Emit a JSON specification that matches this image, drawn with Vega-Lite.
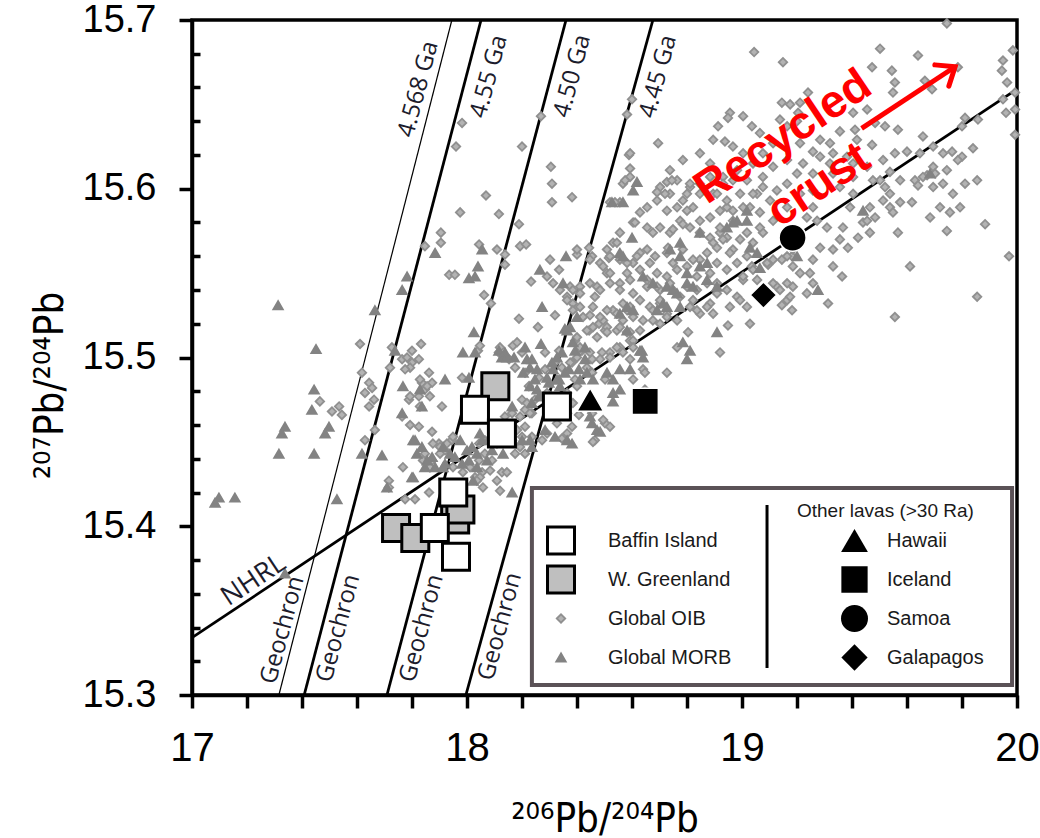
{
"$schema":"https://vega.github.io/schema/vega-lite/v6.json",
"width":825,"height":675,
"autosize":{"type":"none"},
"padding":{"left":192,"top":20,"right":23,"bottom":143},
"background":"white",
"config":{"view":{"stroke":"black","strokeWidth":3.5},"axis":{"labelOverlap":false,"labelFlush":false,"labelBound":false}},
"datasets":{
"lines":[
{"line":"4.568 Ga","x":17.316,"y":15.3},{"line":"4.568 Ga","x":17.945,"y":15.7},
{"line":"4.55 Ga","x":17.408,"y":15.3},{"line":"4.55 Ga","x":18.051,"y":15.7},
{"line":"4.50 Ga","x":17.709,"y":15.3},{"line":"4.50 Ga","x":18.36,"y":15.7},
{"line":"4.45 Ga","x":17.996,"y":15.3},{"line":"4.45 Ga","x":18.676,"y":15.7},
{"line":"NHRL","x":17,"y":15.334},{"line":"NHRL","x":20,"y":15.659}],
"points":[
{"series":"Global OIB","x":17.982,"y":15.639},{"series":"Global OIB","x":17.960,"y":15.625},{"series":"Global OIB","x":18.200,"y":15.625},{"series":"Global OIB","x":18.269,"y":15.643},{"series":"Global OIB","x":18.305,"y":15.613},{"series":"Global OIB","x":18.309,"y":15.603},{"series":"Global OIB","x":18.309,"y":15.592},{"series":"Global OIB","x":18.382,"y":15.595},{"series":"Global OIB","x":18.069,"y":15.596},{"series":"Global OIB","x":17.975,"y":15.586},
{"series":"Global OIB","x":18.116,"y":15.585},{"series":"Global OIB","x":17.905,"y":15.574},{"series":"Global OIB","x":17.905,"y":15.568},{"series":"Global OIB","x":17.847,"y":15.566},{"series":"Global OIB","x":18.044,"y":15.567},{"series":"Global OIB","x":18.109,"y":15.564},{"series":"Global OIB","x":18.189,"y":15.579},{"series":"Global OIB","x":18.193,"y":15.566},{"series":"Global OIB","x":18.215,"y":15.567},{"series":"Global OIB","x":18.138,"y":15.561},
{"series":"Global OIB","x":18.138,"y":15.555},{"series":"Global OIB","x":18.302,"y":15.558},{"series":"Global OIB","x":18.335,"y":15.552},{"series":"Global OIB","x":18.233,"y":15.545},{"series":"Global OIB","x":18.320,"y":15.525},{"series":"Global OIB","x":18.189,"y":15.523},{"series":"Global OIB","x":18.258,"y":15.518},{"series":"Global OIB","x":18.062,"y":15.537},{"series":"Global OIB","x":18.087,"y":15.532},{"series":"Global OIB","x":17.935,"y":15.549},
{"series":"Global OIB","x":17.956,"y":15.549},{"series":"Global OIB","x":17.611,"y":15.508},{"series":"Global OIB","x":17.833,"y":15.508},{"series":"Global OIB","x":18.040,"y":15.504},{"series":"Global OIB","x":18.167,"y":15.507},{"series":"Global OIB","x":18.444,"y":15.565},{"series":"Global OIB","x":18.400,"y":15.561},{"series":"Global OIB","x":18.455,"y":15.560},{"series":"Global OIB","x":18.484,"y":15.556},{"series":"Global OIB","x":18.509,"y":15.550},
{"series":"Global OIB","x":18.516,"y":15.559},{"series":"Global OIB","x":18.375,"y":15.542},{"series":"Global OIB","x":18.411,"y":15.542},{"series":"Global OIB","x":18.465,"y":15.536},{"series":"Global OIB","x":18.473,"y":15.542},{"series":"Global OIB","x":18.447,"y":15.525},{"series":"Global OIB","x":18.480,"y":15.520},{"series":"Global OIB","x":18.444,"y":15.516},{"series":"Global OIB","x":18.502,"y":15.516},{"series":"Global OIB","x":18.520,"y":15.592},
{"series":"Global OIB","x":18.418,"y":15.504},{"series":"Global OIB","x":18.393,"y":15.510},{"series":"Global OIB","x":19.745,"y":15.698},{"series":"Global OIB","x":19.044,"y":15.681},{"series":"Global OIB","x":19.149,"y":15.675},{"series":"Global OIB","x":19.502,"y":15.683},{"series":"Global OIB","x":19.640,"y":15.679},{"series":"Global OIB","x":19.473,"y":15.672},{"series":"Global OIB","x":19.545,"y":15.670},{"series":"Global OIB","x":19.785,"y":15.672},
{"series":"Global OIB","x":19.949,"y":15.676},{"series":"Global OIB","x":19.945,"y":15.670},{"series":"Global OIB","x":19.985,"y":15.682},{"series":"Global OIB","x":19.964,"y":15.663},{"series":"Global OIB","x":19.993,"y":15.657},{"series":"Global OIB","x":19.949,"y":15.653},{"series":"Global OIB","x":19.993,"y":15.647},{"series":"Global OIB","x":19.960,"y":15.645},{"series":"Global OIB","x":19.993,"y":15.632},{"series":"Global OIB","x":19.549,"y":15.657},
{"series":"Global OIB","x":19.556,"y":15.663},{"series":"Global OIB","x":19.665,"y":15.664},{"series":"Global OIB","x":19.691,"y":15.659},{"series":"Global OIB","x":19.240,"y":15.657},{"series":"Global OIB","x":19.211,"y":15.651},{"series":"Global OIB","x":19.145,"y":15.651},{"series":"Global OIB","x":19.175,"y":15.650},{"series":"Global OIB","x":19.204,"y":15.645},{"series":"Global OIB","x":18.956,"y":15.645},{"series":"Global OIB","x":18.949,"y":15.642},
{"series":"Global OIB","x":19.004,"y":15.643},{"series":"Global OIB","x":19.455,"y":15.647},{"series":"Global OIB","x":19.404,"y":15.645},{"series":"Global OIB","x":19.484,"y":15.639},{"series":"Global OIB","x":19.520,"y":15.637},{"series":"Global OIB","x":19.567,"y":15.635},{"series":"Global OIB","x":19.411,"y":15.635},{"series":"Global OIB","x":19.418,"y":15.629},{"series":"Global OIB","x":19.356,"y":15.634},{"series":"Global OIB","x":19.138,"y":15.641},
{"series":"Global OIB","x":19.164,"y":15.637},{"series":"Global OIB","x":19.200,"y":15.640},{"series":"Global OIB","x":19.036,"y":15.637},{"series":"Global OIB","x":19.065,"y":15.633},{"series":"Global OIB","x":18.913,"y":15.637},{"series":"Global OIB","x":18.895,"y":15.629},{"series":"Global OIB","x":18.938,"y":15.628},{"series":"Global OIB","x":18.695,"y":15.627},{"series":"Global OIB","x":18.589,"y":15.620},{"series":"Global OIB","x":19.284,"y":15.629},
{"series":"Global OIB","x":19.320,"y":15.627},{"series":"Global OIB","x":19.211,"y":15.627},{"series":"Global OIB","x":19.258,"y":15.622},{"series":"Global OIB","x":19.331,"y":15.621},{"series":"Global OIB","x":19.382,"y":15.619},{"series":"Global OIB","x":19.473,"y":15.626},{"series":"Global OIB","x":19.513,"y":15.617},{"series":"Global OIB","x":19.556,"y":15.621},{"series":"Global OIB","x":19.600,"y":15.622},{"series":"Global OIB","x":19.647,"y":15.621},
{"series":"Global OIB","x":19.658,"y":15.631},{"series":"Global OIB","x":19.695,"y":15.625},{"series":"Global OIB","x":19.731,"y":15.621},{"series":"Global OIB","x":19.764,"y":15.622},{"series":"Global OIB","x":19.800,"y":15.637},{"series":"Global OIB","x":19.811,"y":15.642},{"series":"Global OIB","x":19.840,"y":15.624},{"series":"Global OIB","x":19.858,"y":15.641},{"series":"Global OIB","x":19.800,"y":15.619},{"series":"Global OIB","x":19.785,"y":15.617},
{"series":"Global OIB","x":19.695,"y":15.613},{"series":"Global OIB","x":19.745,"y":15.611},{"series":"Global OIB","x":19.811,"y":15.603},{"series":"Global OIB","x":19.855,"y":15.605},{"series":"Global OIB","x":19.538,"y":15.610},{"series":"Global OIB","x":19.575,"y":15.605},{"series":"Global OIB","x":19.629,"y":15.605},{"series":"Global OIB","x":19.640,"y":15.602},{"series":"Global OIB","x":19.702,"y":15.609},{"series":"Global OIB","x":19.673,"y":15.608},
{"series":"Global OIB","x":19.502,"y":15.605},{"series":"Global OIB","x":19.520,"y":15.601},{"series":"Global OIB","x":19.538,"y":15.597},{"series":"Global OIB","x":19.618,"y":15.592},{"series":"Global OIB","x":19.684,"y":15.583},{"series":"Global OIB","x":19.720,"y":15.589},{"series":"Global OIB","x":19.756,"y":15.586},{"series":"Global OIB","x":19.793,"y":15.589},{"series":"Global OIB","x":19.745,"y":15.575},{"series":"Global OIB","x":19.884,"y":15.579},
{"series":"Global OIB","x":19.971,"y":15.560},{"series":"Global OIB","x":19.611,"y":15.554},{"series":"Global OIB","x":19.556,"y":15.524},{"series":"Global OIB","x":19.855,"y":15.536},{"series":"Global OIB","x":19.465,"y":15.589},{"series":"Global OIB","x":19.484,"y":15.583},{"series":"Global OIB","x":19.513,"y":15.593},{"series":"Global OIB","x":19.538,"y":15.589},{"series":"Global OIB","x":19.440,"y":15.580},{"series":"Global OIB","x":19.465,"y":15.574},
{"series":"Global OIB","x":19.367,"y":15.577},{"series":"Global OIB","x":19.356,"y":15.570},{"series":"Global OIB","x":19.385,"y":15.565},{"series":"Global OIB","x":19.422,"y":15.571},{"series":"Global OIB","x":19.331,"y":15.564},{"series":"Global OIB","x":19.331,"y":15.554},{"series":"Global OIB","x":19.364,"y":15.548},{"series":"Global OIB","x":19.567,"y":15.574},{"series":"Global OIB","x":19.309,"y":15.577},{"series":"Global OIB","x":19.273,"y":15.581},
{"series":"Global OIB","x":19.236,"y":15.583},{"series":"Global OIB","x":19.258,"y":15.589},{"series":"Global OIB","x":19.211,"y":15.597},{"series":"Global OIB","x":19.258,"y":15.599},{"series":"Global OIB","x":19.331,"y":15.609},{"series":"Global OIB","x":19.356,"y":15.601},{"series":"Global OIB","x":19.404,"y":15.607},{"series":"Global OIB","x":19.320,"y":15.615},{"series":"Global OIB","x":19.284,"y":15.619},{"series":"Global OIB","x":19.455,"y":15.613},
{"series":"Global OIB","x":19.404,"y":15.615},{"series":"Global OIB","x":19.200,"y":15.609},{"series":"Global OIB","x":19.164,"y":15.603},{"series":"Global OIB","x":19.127,"y":15.599},{"series":"Global OIB","x":19.102,"y":15.593},{"series":"Global OIB","x":19.164,"y":15.589},{"series":"Global OIB","x":19.113,"y":15.581},{"series":"Global OIB","x":19.076,"y":15.574},{"series":"Global OIB","x":19.284,"y":15.565},{"series":"Global OIB","x":19.258,"y":15.558},
{"series":"Global OIB","x":19.211,"y":15.550},{"series":"Global OIB","x":19.247,"y":15.550},{"series":"Global OIB","x":19.185,"y":15.554},{"series":"Global OIB","x":19.145,"y":15.558},{"series":"Global OIB","x":19.182,"y":15.560},{"series":"Global OIB","x":19.185,"y":15.542},{"series":"Global OIB","x":19.164,"y":15.534},{"series":"Global OIB","x":19.182,"y":15.528},{"series":"Global OIB","x":19.145,"y":15.531},{"series":"Global OIB","x":19.127,"y":15.542},
{"series":"Global OIB","x":19.236,"y":15.538},{"series":"Global OIB","x":19.258,"y":15.544},{"series":"Global OIB","x":19.313,"y":15.532},{"series":"Global OIB","x":19.113,"y":15.558},{"series":"Global OIB","x":19.095,"y":15.555},{"series":"Global OIB","x":19.018,"y":15.574},{"series":"Global OIB","x":18.993,"y":15.570},{"series":"Global OIB","x":18.945,"y":15.571},{"series":"Global OIB","x":18.967,"y":15.564},{"series":"Global OIB","x":18.920,"y":15.574},
{"series":"Global OIB","x":18.909,"y":15.565},{"series":"Global OIB","x":18.873,"y":15.562},{"series":"Global OIB","x":19.018,"y":15.560},{"series":"Global OIB","x":19.036,"y":15.554},{"series":"Global OIB","x":19.004,"y":15.546},{"series":"Global OIB","x":19.055,"y":15.546},{"series":"Global OIB","x":18.949,"y":15.519},{"series":"Global OIB","x":19.029,"y":15.520},{"series":"Global OIB","x":18.920,"y":15.503},{"series":"Global OIB","x":18.764,"y":15.506},
{"series":"Global OIB","x":18.804,"y":15.515},{"series":"Global OIB","x":18.847,"y":15.526},{"series":"Global OIB","x":18.884,"y":15.532},{"series":"Global OIB","x":18.811,"y":15.530},{"series":"Global OIB","x":18.775,"y":15.536},{"series":"Global OIB","x":18.738,"y":15.544},{"series":"Global OIB","x":18.702,"y":15.540},{"series":"Global OIB","x":18.764,"y":15.552},{"series":"Global OIB","x":18.800,"y":15.554},{"series":"Global OIB","x":18.836,"y":15.548},
{"series":"Global OIB","x":18.847,"y":15.558},{"series":"Global OIB","x":18.884,"y":15.550},{"series":"Global OIB","x":18.909,"y":15.544},{"series":"Global OIB","x":18.945,"y":15.540},{"series":"Global OIB","x":18.982,"y":15.536},{"series":"Global OIB","x":18.884,"y":15.571},{"series":"Global OIB","x":18.847,"y":15.574},{"series":"Global OIB","x":18.811,"y":15.577},{"series":"Global OIB","x":18.775,"y":15.581},{"series":"Global OIB","x":18.738,"y":15.574},
{"series":"Global OIB","x":18.702,"y":15.577},{"series":"Global OIB","x":18.676,"y":15.574},{"series":"Global OIB","x":18.655,"y":15.577},{"series":"Global OIB","x":18.604,"y":15.580},{"series":"Global OIB","x":18.556,"y":15.574},{"series":"Global OIB","x":18.531,"y":15.568},{"series":"Global OIB","x":18.509,"y":15.564},{"series":"Global OIB","x":18.629,"y":15.562},{"series":"Global OIB","x":18.604,"y":15.556},{"series":"Global OIB","x":18.582,"y":15.550},
{"series":"Global OIB","x":18.556,"y":15.544},{"series":"Global OIB","x":18.520,"y":15.550},{"series":"Global OIB","x":18.495,"y":15.554},{"series":"Global OIB","x":18.665,"y":15.556},{"series":"Global OIB","x":18.691,"y":15.550},{"series":"Global OIB","x":18.727,"y":15.562},{"series":"Global OIB","x":18.749,"y":15.556},{"series":"Global OIB","x":18.655,"y":15.542},{"series":"Global OIB","x":18.604,"y":15.538},{"series":"Global OIB","x":18.567,"y":15.532},
{"series":"Global OIB","x":18.531,"y":15.528},{"series":"Global OIB","x":18.495,"y":15.522},{"series":"Global OIB","x":18.702,"y":15.532},{"series":"Global OIB","x":18.727,"y":15.526},{"series":"Global OIB","x":18.676,"y":15.522},{"series":"Global OIB","x":18.629,"y":15.516},{"series":"Global OIB","x":18.593,"y":15.510},{"series":"Global OIB","x":18.556,"y":15.506},{"series":"Global OIB","x":18.520,"y":15.503},{"series":"Global OIB","x":18.785,"y":15.593},
{"series":"Global OIB","x":18.822,"y":15.589},{"series":"Global OIB","x":18.727,"y":15.587},{"series":"Global OIB","x":18.691,"y":15.593},{"series":"Global OIB","x":18.738,"y":15.611},{"series":"Global OIB","x":18.764,"y":15.605},{"series":"Global OIB","x":18.702,"y":15.601},{"series":"Global OIB","x":18.738,"y":15.597},{"series":"Global OIB","x":18.811,"y":15.601},{"series":"Global OIB","x":18.847,"y":15.597},{"series":"Global OIB","x":18.884,"y":15.615},
{"series":"Global OIB","x":18.931,"y":15.607},{"series":"Global OIB","x":18.895,"y":15.597},{"series":"Global OIB","x":18.945,"y":15.589},{"series":"Global OIB","x":18.993,"y":15.597},{"series":"Global OIB","x":18.982,"y":15.611},{"series":"Global OIB","x":19.018,"y":15.605},{"series":"Global OIB","x":19.055,"y":15.597},{"series":"Global OIB","x":19.029,"y":15.589},{"series":"Global OIB","x":18.847,"y":15.621},{"series":"Global OIB","x":18.785,"y":15.617},
{"series":"Global OIB","x":18.967,"y":15.625},{"series":"Global OIB","x":19.004,"y":15.621},{"series":"Global OIB","x":18.556,"y":15.592},{"series":"Global OIB","x":18.593,"y":15.607},{"series":"Global OIB","x":18.567,"y":15.603},{"series":"Global OIB","x":18.600,"y":15.653},{"series":"Global OIB","x":18.582,"y":15.644},{"series":"Global OIB","x":18.629,"y":15.586},{"series":"Global OIB","x":18.655,"y":15.589},{"series":"Global OIB","x":18.920,"y":15.587},
{"series":"Global OIB","x":18.967,"y":15.581},{"series":"Global OIB","x":18.884,"y":15.583},{"series":"Global OIB","x":18.847,"y":15.581},{"series":"Global OIB","x":19.065,"y":15.577},{"series":"Global OIB","x":19.065,"y":15.586},{"series":"Global OIB","x":19.658,"y":15.607},{"series":"Global OIB","x":19.731,"y":15.603},{"series":"Global OIB","x":19.767,"y":15.597},{"series":"Global OIB","x":19.575,"y":15.592},{"series":"Global OIB","x":19.549,"y":15.586},
{"series":"Global OIB","x":19.695,"y":15.601},{"series":"Global OIB","x":19.455,"y":15.581},{"series":"Global OIB","x":19.393,"y":15.589},{"series":"Global OIB","x":19.404,"y":15.597},{"series":"Global OIB","x":19.476,"y":15.605},{"series":"Global OIB","x":19.258,"y":15.609},{"series":"Global OIB","x":19.222,"y":15.615},{"series":"Global OIB","x":19.164,"y":15.617},{"series":"Global OIB","x":19.113,"y":15.613},{"series":"Global OIB","x":19.076,"y":15.607},
{"series":"Global OIB","x":19.040,"y":15.615},{"series":"Global OIB","x":19.076,"y":15.621},{"series":"Global OIB","x":19.113,"y":15.627},{"series":"Global OIB","x":18.593,"y":15.621},{"series":"Global OIB","x":18.575,"y":15.605},{"series":"Global OIB","x":18.593,"y":15.612},{"series":"Global OIB","x":18.691,"y":15.598},{"series":"Global OIB","x":18.720,"y":15.597},{"series":"Global OIB","x":18.727,"y":15.604},{"series":"Global OIB","x":18.745,"y":15.605},
{"series":"Global OIB","x":18.538,"y":15.592},{"series":"Global OIB","x":18.611,"y":15.580},{"series":"Global OIB","x":18.400,"y":15.564},{"series":"Global OIB","x":18.447,"y":15.558},{"series":"Global OIB","x":18.520,"y":15.560},{"series":"Global OIB","x":18.556,"y":15.558},{"series":"Global OIB","x":18.582,"y":15.556},{"series":"Global OIB","x":18.618,"y":15.560},{"series":"Global OIB","x":18.655,"y":15.564},{"series":"Global OIB","x":18.684,"y":15.560},
{"series":"Global OIB","x":18.545,"y":15.568},{"series":"Global OIB","x":18.731,"y":15.565},{"series":"Global OIB","x":18.749,"y":15.576},{"series":"Global OIB","x":18.785,"y":15.579},{"series":"Global OIB","x":18.764,"y":15.589},{"series":"Global OIB","x":18.800,"y":15.587},{"series":"Global OIB","x":18.800,"y":15.597},{"series":"Global OIB","x":18.811,"y":15.603},{"series":"Global OIB","x":18.847,"y":15.603},{"series":"Global OIB","x":18.884,"y":15.607},
{"series":"Global OIB","x":18.909,"y":15.597},{"series":"Global OIB","x":18.931,"y":15.603},{"series":"Global OIB","x":18.967,"y":15.605},{"series":"Global OIB","x":18.945,"y":15.593},{"series":"Global OIB","x":18.967,"y":15.587},{"series":"Global OIB","x":19.004,"y":15.589},{"series":"Global OIB","x":19.040,"y":15.597},{"series":"Global OIB","x":19.076,"y":15.601},{"series":"Global OIB","x":18.920,"y":15.577},{"series":"Global OIB","x":18.895,"y":15.568},
{"series":"Global OIB","x":18.931,"y":15.570},{"series":"Global OIB","x":18.956,"y":15.562},{"series":"Global OIB","x":19.040,"y":15.568},{"series":"Global OIB","x":18.785,"y":15.564},{"series":"Global OIB","x":18.822,"y":15.558},{"series":"Global OIB","x":18.909,"y":15.556},{"series":"Global OIB","x":18.945,"y":15.552},{"series":"Global OIB","x":18.982,"y":15.556},{"series":"Global OIB","x":19.004,"y":15.548},{"series":"Global OIB","x":19.040,"y":15.552},
{"series":"Global OIB","x":19.091,"y":15.556},{"series":"Global OIB","x":19.164,"y":15.560},{"series":"Global OIB","x":19.185,"y":15.564},{"series":"Global OIB","x":19.164,"y":15.544},{"series":"Global OIB","x":19.138,"y":15.540},{"series":"Global OIB","x":19.175,"y":15.536},{"series":"Global OIB","x":19.113,"y":15.544},{"series":"Global OIB","x":18.447,"y":15.544},{"series":"Global OIB","x":18.484,"y":15.540},{"series":"Global OIB","x":18.411,"y":15.538},
{"series":"Global OIB","x":18.385,"y":15.532},{"series":"Global OIB","x":18.520,"y":15.544},{"series":"Global OIB","x":18.556,"y":15.540},{"series":"Global OIB","x":18.593,"y":15.546},{"series":"Global OIB","x":18.629,"y":15.552},{"series":"Global OIB","x":18.655,"y":15.546},{"series":"Global OIB","x":18.691,"y":15.542},{"series":"Global OIB","x":18.727,"y":15.548},{"series":"Global OIB","x":18.749,"y":15.540},{"series":"Global OIB","x":18.800,"y":15.542},
{"series":"Global OIB","x":18.836,"y":15.540},{"series":"Global OIB","x":18.873,"y":15.544},{"series":"Global OIB","x":18.909,"y":15.538},{"series":"Global OIB","x":18.822,"y":15.534},{"series":"Global OIB","x":18.836,"y":15.528},{"series":"Global OIB","x":18.873,"y":15.530},{"series":"Global OIB","x":18.895,"y":15.526},{"series":"Global OIB","x":18.956,"y":15.530},{"series":"Global OIB","x":18.993,"y":15.534},{"series":"Global OIB","x":19.018,"y":15.530},
{"series":"Global OIB","x":18.291,"y":15.548},{"series":"Global OIB","x":18.313,"y":15.544},{"series":"Global OIB","x":18.338,"y":15.540},{"series":"Global OIB","x":18.364,"y":15.536},{"series":"Global OIB","x":18.385,"y":15.528},{"series":"Global OIB","x":18.422,"y":15.524},{"series":"Global OIB","x":18.458,"y":15.530},{"series":"Global OIB","x":18.484,"y":15.524},{"series":"Global OIB","x":18.509,"y":15.528},{"series":"Global OIB","x":18.545,"y":15.526},
{"series":"Global OIB","x":18.567,"y":15.522},{"series":"Global OIB","x":18.593,"y":15.530},{"series":"Global OIB","x":18.629,"y":15.534},{"series":"Global OIB","x":18.665,"y":15.530},{"series":"Global OIB","x":18.702,"y":15.534},{"series":"Global OIB","x":18.509,"y":15.518},{"series":"Global OIB","x":18.545,"y":15.516},{"series":"Global OIB","x":18.582,"y":15.515},{"series":"Global OIB","x":18.604,"y":15.510},{"series":"Global OIB","x":18.702,"y":15.520},
{"series":"Global OIB","x":18.727,"y":15.524},{"series":"Global OIB","x":18.764,"y":15.522},{"series":"Global OIB","x":18.436,"y":15.516},{"series":"Global OIB","x":18.473,"y":15.512},{"series":"Global OIB","x":18.400,"y":15.512},{"series":"Global OIB","x":17.720,"y":15.494},{"series":"Global OIB","x":17.764,"y":15.499},{"series":"Global OIB","x":17.800,"y":15.497},{"series":"Global OIB","x":17.825,"y":15.499},{"series":"Global OIB","x":17.618,"y":15.491},
{"series":"Global OIB","x":17.644,"y":15.485},{"series":"Global OIB","x":17.655,"y":15.482},{"series":"Global OIB","x":17.629,"y":15.479},{"series":"Global OIB","x":17.662,"y":15.475},{"series":"Global OIB","x":17.644,"y":15.471},{"series":"Global OIB","x":17.465,"y":15.474},{"series":"Global OIB","x":17.509,"y":15.468},{"series":"Global OIB","x":17.535,"y":15.471},{"series":"Global OIB","x":17.545,"y":15.466},{"series":"Global OIB","x":17.789,"y":15.475},
{"series":"Global OIB","x":17.825,"y":15.477},{"series":"Global OIB","x":17.847,"y":15.481},{"series":"Global OIB","x":17.873,"y":15.485},{"series":"Global OIB","x":17.836,"y":15.485},{"series":"Global OIB","x":17.862,"y":15.491},{"series":"Global OIB","x":17.909,"y":15.471},{"series":"Global OIB","x":17.982,"y":15.488},{"series":"Global OIB","x":17.727,"y":15.506},{"series":"Global OIB","x":17.800,"y":15.504},{"series":"Global OIB","x":17.764,"y":15.465},
{"series":"Global OIB","x":17.793,"y":15.460},{"series":"Global OIB","x":17.825,"y":15.459},{"series":"Global OIB","x":17.873,"y":15.456},{"series":"Global OIB","x":17.665,"y":15.457},{"series":"Global OIB","x":17.629,"y":15.451},{"series":"Global OIB","x":17.716,"y":15.427},{"series":"Global OIB","x":17.716,"y":15.423},{"series":"Global OIB","x":17.862,"y":15.420},{"series":"Global OIB","x":17.775,"y":15.416},{"series":"Global OIB","x":17.811,"y":15.416},
{"series":"Global OIB","x":17.898,"y":15.449},{"series":"Global OIB","x":17.920,"y":15.445},{"series":"Global OIB","x":17.945,"y":15.451},{"series":"Global OIB","x":17.847,"y":15.443},{"series":"Global OIB","x":17.873,"y":15.439},{"series":"Global OIB","x":18.029,"y":15.429},{"series":"Global OIB","x":18.055,"y":15.432},{"series":"Global OIB","x":18.091,"y":15.439},{"series":"Global OIB","x":18.127,"y":15.432},{"series":"Global OIB","x":18.044,"y":15.439},
{"series":"Global OIB","x":18.065,"y":15.443},{"series":"Global OIB","x":18.065,"y":15.451},{"series":"Global OIB","x":18.091,"y":15.453},{"series":"Global OIB","x":18.044,"y":15.449},{"series":"Global OIB","x":18.175,"y":15.443},{"series":"Global OIB","x":18.211,"y":15.443},{"series":"Global OIB","x":18.164,"y":15.451},{"series":"Global OIB","x":18.211,"y":15.459},{"series":"Global OIB","x":18.236,"y":15.467},{"series":"Global OIB","x":18.211,"y":15.469},
{"series":"Global OIB","x":18.164,"y":15.467},{"series":"Global OIB","x":18.138,"y":15.465},{"series":"Global OIB","x":18.200,"y":15.475},{"series":"Global OIB","x":18.200,"y":15.453},{"series":"Global OIB","x":18.236,"y":15.453},{"series":"Global OIB","x":18.273,"y":15.451},{"series":"Global OIB","x":18.345,"y":15.452},{"series":"Global OIB","x":18.382,"y":15.459},{"series":"Global OIB","x":18.407,"y":15.466},{"series":"Global OIB","x":18.455,"y":15.467},
{"series":"Global OIB","x":18.465,"y":15.451},{"series":"Global OIB","x":18.502,"y":15.461},{"series":"Global OIB","x":18.247,"y":15.475},{"series":"Global OIB","x":18.225,"y":15.483},{"series":"Global OIB","x":18.262,"y":15.488},{"series":"Global OIB","x":18.284,"y":15.493},{"series":"Global OIB","x":18.320,"y":15.497},{"series":"Global OIB","x":18.345,"y":15.494},{"series":"Global OIB","x":18.211,"y":15.491},{"series":"Global OIB","x":18.175,"y":15.494},
{"series":"Global OIB","x":18.153,"y":15.499},{"series":"Global OIB","x":18.116,"y":15.503},{"series":"Global OIB","x":18.200,"y":15.503},{"series":"Global OIB","x":18.284,"y":15.503},{"series":"Global OIB","x":18.335,"y":15.504},{"series":"Global OIB","x":18.382,"y":15.497},{"series":"Global OIB","x":18.407,"y":15.503},{"series":"Global OIB","x":18.455,"y":15.499},{"series":"Global OIB","x":18.491,"y":15.503},{"series":"Global OIB","x":18.502,"y":15.487},
{"series":"Global OIB","x":18.455,"y":15.491},{"series":"Global OIB","x":18.393,"y":15.487},{"series":"Global OIB","x":18.364,"y":15.534},{"series":"Global OIB","x":18.385,"y":15.540},{"series":"Global OIB","x":18.411,"y":15.530},{"series":"Global OIB","x":18.458,"y":15.518},{"series":"Global OIB","x":18.509,"y":15.515},{"series":"Global OIB","x":18.582,"y":15.528},{"series":"Global OIB","x":18.604,"y":15.524},{"series":"Global OIB","x":18.640,"y":15.522},
{"series":"Global OIB","x":18.676,"y":15.528},{"series":"Global OIB","x":18.556,"y":15.518},{"series":"Global OIB","x":18.593,"y":15.515},{"series":"Global OIB","x":18.047,"y":15.507},{"series":"Global OIB","x":18.120,"y":15.506},{"series":"Global OIB","x":18.182,"y":15.509},{"series":"Global OIB","x":17.782,"y":15.500},{"series":"Global OIB","x":17.793,"y":15.494},{"series":"Global OIB","x":17.775,"y":15.493},{"series":"Global OIB","x":17.829,"y":15.487},
{"series":"Global OIB","x":17.855,"y":15.483},{"series":"Global OIB","x":17.793,"y":15.477},{"series":"Global OIB","x":17.865,"y":15.477},{"series":"Global OIB","x":17.829,"y":15.471},{"series":"Global OIB","x":18.411,"y":15.506},{"series":"Global OIB","x":18.447,"y":15.503},{"series":"Global OIB","x":18.400,"y":15.500},{"series":"Global OIB","x":18.375,"y":15.497},{"series":"Global OIB","x":18.436,"y":15.494},{"series":"Global OIB","x":18.484,"y":15.499},
{"series":"Global OIB","x":18.520,"y":15.500},{"series":"Global OIB","x":18.545,"y":15.506},{"series":"Global OIB","x":18.567,"y":15.503},{"series":"Global OIB","x":18.593,"y":15.499},{"series":"Global OIB","x":18.604,"y":15.506},{"series":"Global OIB","x":18.400,"y":15.483},{"series":"Global OIB","x":18.364,"y":15.479},{"series":"Global OIB","x":18.385,"y":15.473},{"series":"Global OIB","x":18.338,"y":15.475},{"series":"Global OIB","x":18.291,"y":15.479},
{"series":"Global OIB","x":18.313,"y":15.469},{"series":"Global OIB","x":18.218,"y":15.473},{"series":"Global OIB","x":18.229,"y":15.467},{"series":"Global OIB","x":18.193,"y":15.465},{"series":"Global OIB","x":18.364,"y":15.467},{"series":"Global OIB","x":18.327,"y":15.461},{"series":"Global OIB","x":18.364,"y":15.455},{"series":"Global OIB","x":18.291,"y":15.455},{"series":"Global OIB","x":18.458,"y":15.450},{"series":"Global OIB","x":18.640,"y":15.493},
{"series":"Global OIB","x":18.604,"y":15.487},{"series":"Global OIB","x":18.647,"y":15.481},{"series":"Global OIB","x":18.495,"y":15.463},{"series":"Global OIB","x":18.520,"y":15.459},{"series":"Global OIB","x":18.182,"y":15.457},{"series":"Global OIB","x":18.156,"y":15.453},{"series":"Global OIB","x":18.131,"y":15.455},{"series":"Global OIB","x":18.193,"y":15.447},{"series":"Global OIB","x":18.109,"y":15.449},{"series":"Global OIB","x":17.949,"y":15.453},
{"series":"Global OIB","x":17.927,"y":15.449},{"series":"Global OIB","x":17.902,"y":15.447},{"series":"Global OIB","x":17.876,"y":15.449},{"series":"Global OIB","x":17.949,"y":15.435},{"series":"Global OIB","x":17.985,"y":15.432},{"series":"Global OIB","x":18.011,"y":15.435},{"series":"Global OIB","x":18.047,"y":15.429},{"series":"Global OIB","x":18.084,"y":15.433},{"series":"Global OIB","x":18.109,"y":15.427},{"series":"Global OIB","x":18.145,"y":15.432},
{"series":"Global OIB","x":18.058,"y":15.423},{"series":"Global OIB","x":18.036,"y":15.427},{"series":"Global OIB","x":18.120,"y":15.421},{"series":"Global OIB","x":17.865,"y":15.435},{"series":"Global OIB","x":17.840,"y":15.439},{"series":"Global OIB","x":17.902,"y":15.443},{"series":"Global OIB","x":17.767,"y":15.435},{"series":"Global OIB","x":18.647,"y":15.491},{"series":"Global OIB","x":18.727,"y":15.491},
{"series":"Global MORB","x":17.313,"y":15.531},{"series":"Global MORB","x":17.665,"y":15.528},{"series":"Global MORB","x":17.451,"y":15.505},{"series":"Global MORB","x":17.738,"y":15.504},{"series":"Global MORB","x":17.782,"y":15.548},{"series":"Global MORB","x":17.764,"y":15.540},{"series":"Global MORB","x":17.884,"y":15.562},{"series":"Global MORB","x":18.055,"y":15.564},{"series":"Global MORB","x":18.040,"y":15.554},{"series":"Global MORB","x":18.029,"y":15.548},
{"series":"Global MORB","x":18.007,"y":15.547},{"series":"Global MORB","x":18.265,"y":15.552},{"series":"Global MORB","x":18.360,"y":15.560},{"series":"Global MORB","x":18.349,"y":15.544},{"series":"Global MORB","x":18.273,"y":15.530},{"series":"Global MORB","x":18.400,"y":15.524},{"series":"Global MORB","x":18.356,"y":15.517},{"series":"Global MORB","x":18.375,"y":15.518},{"series":"Global MORB","x":18.025,"y":15.515},{"series":"Global MORB","x":17.985,"y":15.503},
{"series":"Global MORB","x":18.116,"y":15.504},{"series":"Global MORB","x":18.138,"y":15.503},{"series":"Global MORB","x":18.171,"y":15.500},{"series":"Global MORB","x":18.269,"y":15.508},{"series":"Global MORB","x":18.429,"y":15.506},{"series":"Global MORB","x":18.345,"y":15.503},{"series":"Global MORB","x":18.618,"y":15.604},{"series":"Global MORB","x":18.604,"y":15.599},{"series":"Global MORB","x":18.567,"y":15.592},{"series":"Global MORB","x":18.600,"y":15.571},
{"series":"Global MORB","x":18.847,"y":15.574},{"series":"Global MORB","x":18.982,"y":15.581},{"series":"Global MORB","x":19.018,"y":15.581},{"series":"Global MORB","x":19.684,"y":15.609},{"series":"Global MORB","x":19.440,"y":15.587},{"series":"Global MORB","x":19.200,"y":15.560},{"series":"Global MORB","x":19.065,"y":15.553},{"series":"Global MORB","x":19.276,"y":15.540},{"series":"Global MORB","x":18.909,"y":15.515},{"series":"Global MORB","x":18.811,"y":15.504},
{"series":"Global MORB","x":18.636,"y":15.504},{"series":"Global MORB","x":18.556,"y":15.562},{"series":"Global MORB","x":18.640,"y":15.548},{"series":"Global MORB","x":18.676,"y":15.544},{"series":"Global MORB","x":18.727,"y":15.542},{"series":"Global MORB","x":18.764,"y":15.538},{"series":"Global MORB","x":18.582,"y":15.530},{"series":"Global MORB","x":18.556,"y":15.526},{"series":"Global MORB","x":18.604,"y":15.528},{"series":"Global MORB","x":18.713,"y":15.532},
{"series":"Global MORB","x":18.691,"y":15.528},{"series":"Global MORB","x":18.775,"y":15.560},{"series":"Global MORB","x":18.800,"y":15.550},{"series":"Global MORB","x":18.822,"y":15.542},{"series":"Global MORB","x":18.873,"y":15.546},{"series":"Global MORB","x":18.909,"y":15.542},{"series":"Global MORB","x":18.738,"y":15.564},{"series":"Global MORB","x":19.029,"y":15.565},{"series":"Global MORB","x":19.055,"y":15.562},{"series":"Global MORB","x":18.967,"y":15.580},
{"series":"Global MORB","x":18.945,"y":15.577},{"series":"Global MORB","x":19.018,"y":15.587},{"series":"Global MORB","x":18.527,"y":15.592},{"series":"Global MORB","x":18.567,"y":15.560},{"series":"Global MORB","x":18.775,"y":15.568},{"series":"Global MORB","x":18.749,"y":15.540},{"series":"Global MORB","x":18.800,"y":15.544},{"series":"Global MORB","x":18.847,"y":15.554},{"series":"Global MORB","x":18.873,"y":15.556},{"series":"Global MORB","x":18.727,"y":15.530},
{"series":"Global MORB","x":18.775,"y":15.530},{"series":"Global MORB","x":18.785,"y":15.509},{"series":"Global MORB","x":18.364,"y":15.516},{"series":"Global MORB","x":18.385,"y":15.509},{"series":"Global MORB","x":18.582,"y":15.516},{"series":"Global MORB","x":18.029,"y":15.503},{"series":"Global MORB","x":18.127,"y":15.500},{"series":"Global MORB","x":18.211,"y":15.506},{"series":"Global MORB","x":18.236,"y":15.499},{"series":"Global MORB","x":18.309,"y":15.497},
{"series":"Global MORB","x":18.393,"y":15.504},{"series":"Global MORB","x":18.429,"y":15.499},{"series":"Global MORB","x":18.407,"y":15.493},{"series":"Global MORB","x":18.356,"y":15.491},{"series":"Global MORB","x":17.444,"y":15.481},{"series":"Global MORB","x":17.436,"y":15.469},{"series":"Global MORB","x":17.484,"y":15.455},{"series":"Global MORB","x":17.498,"y":15.459},{"series":"Global MORB","x":17.338,"y":15.459},{"series":"Global MORB","x":17.327,"y":15.455},
{"series":"Global MORB","x":17.316,"y":15.443},{"series":"Global MORB","x":17.444,"y":15.443},{"series":"Global MORB","x":17.527,"y":15.416},{"series":"Global MORB","x":17.618,"y":15.443},{"series":"Global MORB","x":17.691,"y":15.442},{"series":"Global MORB","x":17.764,"y":15.467},{"series":"Global MORB","x":17.836,"y":15.471},{"series":"Global MORB","x":17.920,"y":15.487},{"series":"Global MORB","x":18.007,"y":15.488},{"series":"Global MORB","x":17.098,"y":15.417},
{"series":"Global MORB","x":17.084,"y":15.414},{"series":"Global MORB","x":17.156,"y":15.417},{"series":"Global MORB","x":17.709,"y":15.423},{"series":"Global MORB","x":17.800,"y":15.429},{"series":"Global MORB","x":17.811,"y":15.451},{"series":"Global MORB","x":17.836,"y":15.447},{"series":"Global MORB","x":17.873,"y":15.441},{"series":"Global MORB","x":17.884,"y":15.435},{"series":"Global MORB","x":17.847,"y":15.435},{"series":"Global MORB","x":17.920,"y":15.437},
{"series":"Global MORB","x":17.956,"y":15.441},{"series":"Global MORB","x":17.982,"y":15.437},{"series":"Global MORB","x":18.007,"y":15.439},{"series":"Global MORB","x":18.018,"y":15.447},{"series":"Global MORB","x":18.055,"y":15.451},{"series":"Global MORB","x":18.091,"y":15.445},{"series":"Global MORB","x":18.164,"y":15.420},{"series":"Global MORB","x":18.200,"y":15.451},{"series":"Global MORB","x":18.236,"y":15.447},{"series":"Global MORB","x":18.320,"y":15.453},
{"series":"Global MORB","x":18.284,"y":15.457},{"series":"Global MORB","x":18.455,"y":15.461},{"series":"Global MORB","x":18.473,"y":15.457},{"series":"Global MORB","x":18.447,"y":15.465},{"series":"Global MORB","x":18.262,"y":15.477},{"series":"Global MORB","x":18.236,"y":15.473},{"series":"Global MORB","x":18.164,"y":15.471},{"series":"Global MORB","x":18.382,"y":15.449},{"series":"Global MORB","x":18.247,"y":15.487},{"series":"Global MORB","x":18.298,"y":15.485},
{"series":"Global MORB","x":18.335,"y":15.487},{"series":"Global MORB","x":18.371,"y":15.493},{"series":"Global MORB","x":17.338,"y":15.372},{"series":"Global MORB","x":18.145,"y":15.500},{"series":"Global MORB","x":18.218,"y":15.499},{"series":"Global MORB","x":18.229,"y":15.494},{"series":"Global MORB","x":18.255,"y":15.493},{"series":"Global MORB","x":18.204,"y":15.491},{"series":"Global MORB","x":18.327,"y":15.500},{"series":"Global MORB","x":18.313,"y":15.493},
{"series":"Global MORB","x":18.291,"y":15.488},{"series":"Global MORB","x":17.767,"y":15.483},{"series":"Global MORB","x":17.829,"y":15.481},{"series":"Global MORB","x":18.229,"y":15.483},{"series":"Global MORB","x":18.255,"y":15.481},{"series":"Global MORB","x":18.265,"y":15.477},{"series":"Global MORB","x":18.327,"y":15.487},{"series":"Global MORB","x":18.338,"y":15.483},{"series":"Global MORB","x":18.411,"y":15.487},{"series":"Global MORB","x":18.436,"y":15.491},
{"series":"Global MORB","x":18.458,"y":15.487},{"series":"Global MORB","x":18.509,"y":15.491},{"series":"Global MORB","x":18.531,"y":15.487},{"series":"Global MORB","x":18.556,"y":15.493},{"series":"Global MORB","x":18.593,"y":15.493},{"series":"Global MORB","x":18.629,"y":15.504},{"series":"Global MORB","x":18.640,"y":15.500},{"series":"Global MORB","x":18.531,"y":15.479},{"series":"Global MORB","x":18.556,"y":15.481},{"series":"Global MORB","x":17.804,"y":15.451},
{"series":"Global MORB","x":17.818,"y":15.443},{"series":"Global MORB","x":17.855,"y":15.439},{"series":"Global MORB","x":17.913,"y":15.447},{"series":"Global MORB","x":17.938,"y":15.443},{"series":"Global MORB","x":17.975,"y":15.451},{"series":"Global MORB","x":18.000,"y":15.445},{"series":"Global MORB","x":18.036,"y":15.443},{"series":"Global MORB","x":18.047,"y":15.455},{"series":"Global MORB","x":18.084,"y":15.453},{"series":"Global MORB","x":18.229,"y":15.451},
{"series":"Global MORB","x":18.364,"y":15.451},{"series":"Global MORB","x":17.913,"y":15.435},{"series":"Global MORB","x":18.036,"y":15.435},{"series":"Global MORB","x":18.073,"y":15.439},{"series":"Global MORB","x":18.131,"y":15.443},{"series":"Global MORB","x":17.804,"y":15.429},{"series":"Global MORB","x":18.022,"y":15.427},{"series":"Global MORB","x":18.800,"y":15.499},{"series":"Global MORB","x":18.531,"y":15.474},{"series":"Global MORB","x":18.484,"y":15.456},
{"series":"W. Greenland","x":18.103,"y":15.483},{"series":"W. Greenland","x":17.742,"y":15.399},{"series":"W. Greenland","x":17.812,"y":15.393},{"series":"W. Greenland","x":17.957,"y":15.404},{"series":"W. Greenland","x":17.976,"y":15.410},
{"series":"Baffin Island","x":18.029,"y":15.469},{"series":"Baffin Island","x":18.127,"y":15.455},{"series":"Baffin Island","x":18.327,"y":15.471},{"series":"Baffin Island","x":17.95,"y":15.420},{"series":"Baffin Island","x":17.883,"y":15.399},{"series":"Baffin Island","x":17.96,"y":15.382}],
"lavas":[
{"lava":"Hawaii","x":18.448,"y":15.475},{"lava":"Iceland","x":18.648,"y":15.474},{"lava":"Samoa","x":19.184,"y":15.571},{"lava":"Galapagos","x":19.078,"y":15.537}],
"lineLabels":[
{"label":"4.568 Ga","x":17.824,"y":15.659},{"label":"4.55 Ga","x":18.081,"y":15.6664},{"label":"4.50 Ga","x":18.384,"y":15.6668},{"label":"4.45 Ga","x":18.696,"y":15.6664},
{"label":"Geochron","x":17.33,"y":15.3385},{"label":"Geochron","x":17.533,"y":15.3395},{"label":"Geochron","x":17.836,"y":15.3395},{"label":"Geochron","x":18.121,"y":15.3405}],
"nhrlLabel":[{"label":"NHRL","x":17.224,"y":15.368}],
"crustLabel":[{"label":"Recycled","x":19.149,"y":15.6307},{"label":"crust","x":19.278,"y":15.6022}],
"arrow":[{"x":19.435,"y":15.6358},{"x":19.775,"y":15.6723}],
"arrowTip":[{"x":19.775,"y":15.6723}]
},
"layer":[
{"data":{"name":"lines"},"transform":[{"filter":"datum.line === '4.568 Ga'"}],
 "mark":{"type":"line","color":"black","strokeWidth":1.2},
 "encoding":{
  "x":{"field":"x","type":"quantitative","scale":{"domain":[17,20],"nice":false,"zero":false},
   "axis":{"values":[17,17.2,17.4,17.6,17.8,18,18.2,18.4,18.6,18.8,19,19.2,19.4,19.6,19.8,20],
    "labelExpr":"abs(datum.value - round(datum.value)) < 0.001 ? format(datum.value, 'd') : ''",
    "labelFont":"Liberation Sans","labelFontSize":40,"labelColor":"black","labelPadding":20,"labelFlush":false,"labelOverlap":false,"labelBound":false,
    "tickSize":13,"tickWidth":3.5,"tickColor":"black","domainColor":"black","domainWidth":3.5,"grid":false,"zindex":1,
    "title":"²⁰⁶Pb/²⁰⁴Pb","titleFont":"Liberation Sans Narrow, DejaVu Sans Condensed, Liberation Sans","titleFontSize":40,"titleFontWeight":"normal","titleColor":"black","titleY":136,"titleBaseline":"alphabetic",
    "encode":{"ticks":{"update":{"y":{"value":-8},"y2":[{"test":"abs(datum.value - round(datum.value)) < 0.001","value":13},{"value":0}]}}}}},
  "y":{"field":"y","type":"quantitative","scale":{"domain":[15.3,15.7],"nice":false,"zero":false},
   "axis":{"orient":"left","values":[15.3,15.4,15.5,15.6,15.7],"format":".1f",
    "labelFont":"Liberation Sans","labelFontSize":38,"labelColor":"black","labelPadding":23,"labelFlush":false,"labelOverlap":false,"labelBound":false,
    "tickSize":13,"tickWidth":3.5,"tickColor":"black","domainColor":"black","domainWidth":3.5,"grid":false,"zindex":1,
    "title":"²⁰⁷Pb/²⁰⁴Pb","titleFont":"Liberation Sans Narrow, DejaVu Sans Condensed, Liberation Sans","titleFontSize":40,"titleFontWeight":"normal","titleColor":"black","titleAngle":270,"titleX":-130,"titleY":365,"titleBaseline":"alphabetic","titleAlign":"center",
    "encode":{"ticks":{"update":{"x":{"value":8}}}}}},
  "detail":{"field":"line"}}},
{"data":{"name":"lines"},"transform":[{"filter":"datum.line !== '4.568 Ga'"}],
 "mark":{"type":"line","color":"black","strokeWidth":2.8},
 "encoding":{"x":{"field":"x","type":"quantitative"},
  "y":{"field":"y","type":"quantitative",
   "axis":{"orient":"right","offset":-825,"values":[15.32,15.34,15.36,15.38,15.42,15.44,15.46,15.48,15.52,15.54,15.56,15.58,15.62,15.64,15.66,15.68],"labels":false,"domain":false,"grid":false,"title":null,"tickSize":8,"tickWidth":3.5,"tickColor":"black","zindex":1}},
  "detail":{"field":"line"}}},
{"data":{"name":"points"},
 "mark":{"type":"point","filled":true,"opacity":1},
 "encoding":{
  "x":{"field":"x","type":"quantitative"},"y":{"field":"y","type":"quantitative","axis":null},
  "shape":{"field":"series","type":"nominal","scale":{"domain":["Baffin Island","W. Greenland","Global OIB","Global MORB"],"range":["square","square","diamond","triangle-up"]},
   "legend":{"orient":"none","legendX":354,"legendY":505,"title":null,"padding":0,"rowPadding":8,"clipHeight":31,"labelOffset":32,"labelFont":"Liberation Sans","labelFontSize":20,"labelColor":"#1a1a1a","labelLimit":300,"symbolOpacity":1}},
  "fill":{"field":"series","type":"nominal","scale":{"domain":["Baffin Island","W. Greenland","Global OIB","Global MORB"],"range":["#ffffff","#bfbfbf","#b3b3b3","#838383"]},
   "legend":{"orient":"none","legendX":354,"legendY":505,"title":null,"padding":0,"rowPadding":8,"clipHeight":31,"labelOffset":32,"labelFont":"Liberation Sans","labelFontSize":20,"labelColor":"#1a1a1a","labelLimit":300,"symbolOpacity":1}},
  "stroke":{"field":"series","type":"nominal","scale":{"domain":["Baffin Island","W. Greenland","Global OIB","Global MORB"],"range":["#000000","#000000","#909090","#838383"]},
   "legend":{"orient":"none","legendX":354,"legendY":505,"title":null,"padding":0,"rowPadding":8,"clipHeight":31,"labelOffset":32,"labelFont":"Liberation Sans","labelFontSize":20,"labelColor":"#1a1a1a","labelLimit":300,"symbolOpacity":1}},
  "size":{"field":"series","type":"nominal","scale":{"type":"ordinal","domain":["Baffin Island","W. Greenland","Global OIB","Global MORB"],"range":[729,729,72,90]},
   "legend":{"orient":"none","legendX":354,"legendY":505,"title":null,"padding":0,"rowPadding":8,"clipHeight":31,"labelOffset":32,"labelFont":"Liberation Sans","labelFontSize":20,"labelColor":"#1a1a1a","labelLimit":300,"symbolOpacity":1}},
  "strokeWidth":{"field":"series","type":"nominal","scale":{"type":"ordinal","domain":["Baffin Island","W. Greenland","Global OIB","Global MORB"],"range":[3,3,1.8,1.8]},
   "legend":{"orient":"none","legendX":354,"legendY":505,"title":null,"padding":0,"rowPadding":8,"clipHeight":31,"labelOffset":32,"labelFont":"Liberation Sans","labelFontSize":20,"labelColor":"#1a1a1a","labelLimit":300,"symbolOpacity":1}}}},
{"data":{"name":"lavas"},
 "mark":{"type":"point","filled":true,"opacity":1,"color":"black","stroke":"white","strokeWidth":1.5},
 "encoding":{
  "x":{"field":"x","type":"quantitative"},"y":{"field":"y","type":"quantitative","axis":null},
  "shape":{"field":"lava","type":"nominal","scale":{"domain":["Hawaii","Iceland","Samoa","Galapagos"],"range":["triangle-up","square","circle","diamond"]},
   "legend":{"orient":"none","legendX":605,"legendY":482,"title":"Other lavas (>30 Ra)","titleFont":"Liberation Sans","titleFontSize":19,"titleFontWeight":"normal","titleColor":"#1a1a1a","titlePadding":5,"titleLimit":400,"padding":0,"rowPadding":10,"clipHeight":29,"symbolOffset":43,"labelOffset":18,"labelFont":"Liberation Sans","labelFontSize":20,"labelColor":"#1a1a1a","symbolFillColor":"black","symbolStrokeColor":"white","symbolStrokeWidth":1.5,"symbolOpacity":1}},
  "size":{"field":"lava","type":"nominal","scale":{"type":"ordinal","domain":["Hawaii","Iceland","Samoa","Galapagos"],"range":[720,690,729,690]},
   "legend":{"orient":"none","legendX":605,"legendY":482,"title":"Other lavas (>30 Ra)","titleFont":"Liberation Sans","titleFontSize":19,"titleFontWeight":"normal","titleColor":"#1a1a1a","titlePadding":5,"titleLimit":400,"padding":0,"rowPadding":10,"clipHeight":29,"symbolOffset":43,"labelOffset":18,"labelFont":"Liberation Sans","labelFontSize":20,"labelColor":"#1a1a1a","symbolFillColor":"black","symbolStrokeColor":"white","symbolStrokeWidth":1.5,"symbolOpacity":1}}}},
{"data":{"name":"lineLabels"},
 "mark":{"type":"text","angle":285,"align":"center","baseline":"middle","font":"Open Sans","fontSize":24,"color":"#1c1c2c"},
 "encoding":{"x":{"field":"x","type":"quantitative"},"y":{"field":"y","type":"quantitative","axis":null},"text":{"field":"label"}}},
{"data":{"name":"nhrlLabel"},
 "mark":{"type":"text","angle":326.4,"align":"center","baseline":"middle","font":"Open Sans","fontSize":27,"color":"#1c1c2c"},
 "encoding":{"x":{"field":"x","type":"quantitative"},"y":{"field":"y","type":"quantitative","axis":null},"text":{"field":"label"}}},
{"data":{"name":"crustLabel"},
 "mark":{"type":"text","angle":326,"align":"center","baseline":"middle","font":"Liberation Sans","fontWeight":"bold","fontSize":46,"color":"#ff0000"},
 "encoding":{"x":{"field":"x","type":"quantitative"},"y":{"field":"y","type":"quantitative","axis":null},"text":{"field":"label"}}},
{"data":{"name":"arrow"},
 "mark":{"type":"line","color":"#ff0000","strokeWidth":5},
 "encoding":{"x":{"field":"x","type":"quantitative"},"y":{"field":"y","type":"quantitative","axis":null}}},
{"data":{"name":"arrowTip"},
 "mark":{"type":"point","shape":"M-0.6,0.75L0,0L0.6,0.75","filled":false,"opacity":1,"stroke":"#ff0000","strokeWidth":5,"size":1800,"angle":56.6,"strokeCap":"round","strokeJoin":"miter"},
 "encoding":{"x":{"field":"x","type":"quantitative"},"y":{"field":"y","type":"quantitative","axis":null}}},
{"data":{"values":[{}]},
 "mark":{"type":"rect","fill":"white","stroke":"#5b5257","strokeWidth":4},
 "encoding":{"x":{"datum":18.236},"x2":{"datum":19.982},"y":{"datum":15.4227,"axis":null},"y2":{"datum":15.3059}}},
{"data":{"values":[{}]},
 "mark":{"type":"rule","color":"black","strokeWidth":3},
 "encoding":{"x":{"datum":19.091},"y":{"datum":15.4126,"axis":null},"y2":{"datum":15.316}}}
],
"resolve":{"axis":{"y":"independent"},"scale":{"shape":"independent","size":"independent","fill":"independent","stroke":"independent","strokeWidth":"independent"},"legend":{"shape":"independent","size":"independent","fill":"independent","stroke":"independent","strokeWidth":"independent"}}
}
